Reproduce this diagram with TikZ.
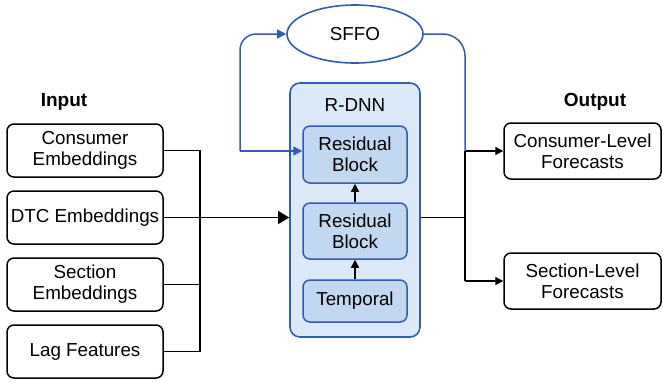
\documentclass[tikz,border=0pt]{standalone}
\usepackage{fontspec}
\setmainfont{Liberation Sans}
\usetikzlibrary{arrows.meta,shapes.geometric}
\definecolor{bstroke}{RGB}{52,92,172}
\definecolor{outerfill}{RGB}{220,233,248}
\definecolor{innerfill}{RGB}{194,215,240}
\tikzset{
  txt/.style={font=\fontsize{18.8}{21}\selectfont, align=center},
  inbox/.style={txt, draw=black, line width=1.5pt, rounded corners=7pt, fill=white,
     minimum width=156pt, minimum height=53pt, inner sep=0pt},
  outbox/.style={txt, draw=black, line width=1.5pt, rounded corners=7pt, fill=white,
     minimum width=157pt, minimum height=56pt, inner sep=0pt},
  blk/.style={txt, draw=bstroke, line width=1.5pt, rounded corners=7pt, fill=innerfill,
     minimum width=104pt, inner sep=0pt},
  conn/.style={draw=black, line width=1.4pt},
  bconn/.style={draw=bstroke, line width=1.5pt},
  tip/.style={-{Triangle[length=8pt,width=8pt]}},
  head/.style={font=\fontsize{19}{22}\selectfont\bfseries},
}
\begin{document}
\begin{tikzpicture}[x=1pt,y=-1pt]
\useasboundingbox (0,0) rectangle (663,381);
% inputs
\node[head] (inlab) at (64,102) {Input};
\node[inbox] (in1) at (85,150.5) {Consumer\\Embeddings};
\node[inbox] (in2) at (85,217.5) {DTC Embeddings};
\node[inbox] (in3) at (85,284.5) {Section\\Embeddings};
\node[inbox] (in4) at (85,351.5) {Lag Features};
% R-DNN
\node[draw=bstroke, fill=outerfill, line width=1.6pt, rounded corners=10pt,
  minimum width=130pt, minimum height=254pt] (rdnn) at (355,210) {};
\node[txt] (rlab) at (355,105) {R-DNN};
\node[blk, minimum height=57pt] (rb1) at (355,154.5) {Residual\\Block};
\node[blk, minimum height=56pt] (rb2) at (355,231) {Residual\\Block};
\node[blk, minimum height=42pt] (tmp) at (355,301) {Temporal};
\draw[conn,tip] (tmp.north) -- (rb2.south);
\draw[conn,tip] (rb2.north) -- (rb1.south);
% SFFO
\node[ellipse, draw=bstroke, line width=1.6pt, fill=white, txt,
  minimum width=136pt, minimum height=58pt, inner sep=0pt] (sffo) at (355,34) {SFFO};
% outputs
\node[head] (outlab) at (595,102) {Output};
\node[outbox] (out1) at (582.5,151) {Consumer-Level\\Forecasts};
\node[outbox] (out2) at (582.5,281) {Section-Level\\Forecasts};
% input bus
\coordinate (ibT) at (200,150.5);
\coordinate (ibB) at (200,351.5);
\draw[conn] (in1.east) -- (ibT) -- (ibB) -- (in4.east);
\draw[conn] (in3.east) -- (in3.east -| ibT);
\draw[conn,-{Triangle[length=11pt,width=13pt]}] (in2.east) -- (in2.east -| rdnn.west);
% output bus
\coordinate (obT) at (465,151);
\coordinate (obB) at (465,281);
\draw[conn] (rdnn.east |- in2.east) -- (in2.east -| obT);
\draw[conn] (obT) -- (obB);
\draw[conn,tip] (obT) -- (out1.west);
\draw[conn,tip] (obB) -- (out2.west);
% feedback loop
\draw[bconn, rounded corners=22pt] (sffo.east) -| (obT);
\coordinate (fb) at (240,151);
\draw[bconn, rounded corners=16pt, -{Triangle[length=9pt,width=9pt]}] (fb) |- (sffo.west);
\draw[bconn, -{Triangle[length=9pt,width=9pt]}] (fb) -- (fb -| rb1.west);
\end{tikzpicture}
\end{document}
